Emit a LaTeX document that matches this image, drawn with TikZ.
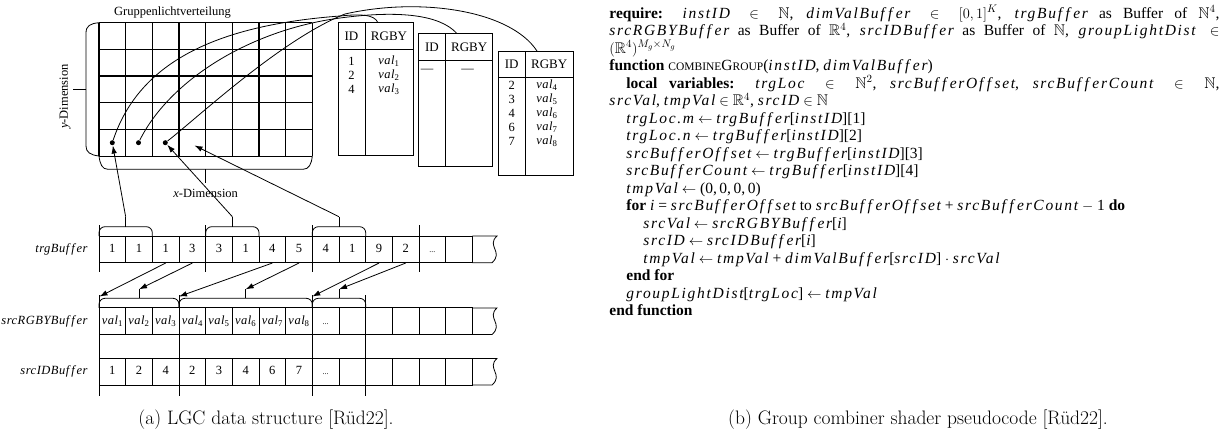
\documentclass[tikz,border=0pt]{standalone}
\usepackage{fontspec}
\usepackage{amssymb}
\usetikzlibrary{arrows.meta,positioning}
\newfontfamily\tms{Liberation Serif}
\newfontfamily\tmsv[LetterSpace=11]{Liberation Serif}
\newfontfamily\tmsd[LetterSpace=4]{Liberation Serif}
\newcommand\vn[1]{{\tmsv\itshape #1}}
\newcommand\dvn[1]{{\tmsd\itshape #1}}
\newcommand\val[1]{\dvn{val}\textsubscript{#1}}
\newcommand\dts{{\fontsize{8}{8}\selectfont...}}
\newcommand\ind{\hspace*{17pt}}
\newcommand\indd{\hspace*{34pt}}
\newcommand\inn{\hspace{4.5pt plus 4pt}$\in$\hspace{4.5pt plus 4pt}}

\tikzset{
  cell/.style={draw, minimum width=26.67pt, minimum height=26.67pt, inner sep=0pt,
    text height=9pt, text depth=3pt, font=\tms\fontsize{12.5}{14}\selectfont},
  txt/.style={inner sep=0pt, font=\tms\fontsize{12.5}{14}\selectfont},
  hdr/.style={inner sep=0pt, font=\tms\fontsize{13}{15}\selectfont},
  gdot/.style={circle, fill, inner sep=0pt, minimum size=5pt},
  arr/.style={-{Latex[length=8pt,width=5.5pt]}},
  brc/.style={rounded corners=6pt},
  capt/.style={inner sep=0pt, font=\fontsize{19.5}{23}\selectfont}
}

\begin{document}
\begin{tikzpicture}[x=1pt, y=-1pt, line width=0.8pt]
\useasboundingbox (0,0) rectangle (1224,437);

% Gruppenlichtverteilung
\foreach \i in {0,...,8}
  \draw[line width=1.1pt] ({99+26.67*\i},22.7) -- ({99+26.67*\i},156);
\foreach \j in {0,...,5}
  \draw[line width=1.1pt] (99,{22.7+26.67*\j}) -- (312.3,{22.7+26.67*\j});
\node[txt] (gtitle) at (172.5,12.7) {Gruppenlichtverteilung};
\draw (99,22.7) .. controls (90,23.5) and (86,26) .. (86,33) -- (86,146) .. controls (86,152) and (90,155) .. (99,156);
\draw (86,89.3) -- (72.7,89.3);
\node[txt, rotate=90] (ydim) at (65,96.5) {\dvn{y}-Dimension};
\draw (99,156) .. controls (100,164) and (102,169.3) .. (108,169.3) -- (303,169.3) .. controls (309,169.3) and (311.5,164) .. (312.3,156);
\draw (205.7,169.3) -- (205.7,182.7);
\node[txt] (xdim) at (205.7,193.5) {\dvn{x}-Dimension};

\node[gdot] (d1) at (112.3,142.7) {};
\node[gdot] (d2) at (138.5,142.7) {};
\node[gdot] (d3) at (165.3,142.7) {};
\coordinate (g4) at (194.5,145.5);

% Tabellen
\draw (338,22.7) rectangle (413,155) (338,49.3) -- (413,49.3) (365,22.7) -- (365,155);
\node[hdr] (hA1) at (351.5,36.5) {ID};
\node[hdr] (hA2) at (389,36.5) {RGBY};
\foreach \a/\b [count=\k] in {1/1,2/2,4/3} {
  \node[txt] (iA\k) at (351.5,{47+14*\k}) {\a};
  \node[txt] (vA\k) at (389,{47+14*\k}) {\val{\b}};
}

\draw (418.3,33.3) rectangle (492.7,166) (418.3,60) -- (492.7,60) (445.7,33.3) -- (445.7,166);
\node[hdr] (hB1) at (432,47.2) {ID};
\node[hdr] (hB2) at (469.2,47.2) {RGBY};
\node[txt] (iB1) at (427,71) {—};
\node[txt] (vB1) at (467.5,71) {—};

\draw (498.3,51) rectangle (573.3,175) (498.3,77) -- (573.3,77) (525,51) -- (525,175);
\node[hdr] (hC1) at (511.7,64.5) {ID};
\node[hdr] (hC2) at (549.2,64.5) {RGBY};
\foreach \a/\b [count=\k] in {2/4,3/5,4/6,6/7,7/8} {
  \node[txt] (iC\k) at (511.7,{71+14*\k}) {\a};
  \node[txt] (vC\k) at (547,{71+14*\k}) {\val{\b}};
}

\coordinate (inA) at (378,22.7);
\coordinate (inB) at (456.7,33.3);
\coordinate (inC) at (537,51);
\draw (d1) .. controls (140,60) and (220,25) .. (340,16) .. controls (360,14) and (374,14) .. (inA);
\draw (d2) .. controls (170,80) and (250,30) .. (340,18) .. controls (400,10) and (440,15) .. (inB);
\draw (d3) .. controls (195,120) and (280,40) .. (345,14) .. controls (420,-3) and (510,10) .. (inC);

% trgBuffer
\foreach \v [count=\k] in {1,1,1,3,3,1,4,5,4,1,9,2,\dts,{}}
  \node[cell] (t\k) at ({99+26.67*(\k-0.5)},249.3) {\v};
\draw (472.4,236) -- (497,236) .. controls (486,246) and (504,252) .. (492,262.7) -- (472.4,262.7);
\foreach \x in {99,205.7,312.3,419}
  \draw (\x,225) -- (\x,271.7);
\foreach \a/\b/\n in {99/152.3/A,205.7/259/B,312.3/365.7/C} {
  \draw[brc] (\a,236) -- (\a,226.7) -- (\b,226.7) -- (\b,236);
  \draw ({(\a+\b)/2},226.7) -- ({(\a+\b)/2},216.7) coordinate (trg\n);
}
\node[txt, anchor=east] (trgL) at (88,249.3) {\dvn{trgBuf\/f\/er}};

\draw[arr] (trgA) -- (d1);
\draw[arr] (trgB) -- (d3);
\draw[arr] (trgC) -- (g4);

% srcRGBYBuffer, srcIDBuffer
\foreach \v [count=\k] in {\val{1},\val{2},\val{3},\val{4},\val{5},\val{6},\val{7},\val{8},\dts,{},{},{},{},{}}
  \node[cell] (s\k) at ({99+26.67*(\k-0.5)},321.2) {\v};
\foreach \v [count=\k] in {1,2,4,2,3,4,6,7,\dts,{},{},{},{},{}}
  \node[cell] (i\k) at ({99+26.67*(\k-0.5)},371.7) {\v};
\foreach \y in {307.9,358.4}
  \draw (472.4,\y) -- (497,\y) .. controls (486,\y+10) and (504,\y+16) .. (492,\y+26.67) -- (472.4,\y+26.67);
\foreach \x in {99,179,312.3,365.7}
  \draw (\x,295) -- (\x,396);
\foreach \a/\b/\n in {99/179/A,179/312.3/B,312.3/365.7/C} {
  \draw[brc] (\a,307.9) -- (\a,298.3) -- (\b,298.3) -- (\b,307.9);
  \draw ({(\a+\b)/2},298.3) -- ({(\a+\b)/2},289.3) coordinate (src\n);
}
\coordinate (s0A) at (99.5,296.5);
\coordinate (s0B) at (179,296.5);
\coordinate (s0C) at (312.3,296.5);
\node[txt, anchor=east] (srcL) at (88,321.2) {\dvn{srcRGBYBuf\/f\/er}};
\node[txt, anchor=east] (idL) at (88,371.7) {\dvn{srcIDBuf\/f\/er}};

\draw[arr] (t3.south) -- (s0A);
\draw[arr] (t4.south) -- (srcA);
\draw[arr] (t7.south) -- (s0B);
\draw[arr] (t8.south) -- (srcB);
\draw[arr] (t11.south) -- (s0C);
\draw[arr] (t12.south) -- (srcC);

% Pseudocode
\node[anchor=north west, inner sep=0pt, text width=610pt, align=justify,
  font=\tms\fontsize{15.5}{17.5}\selectfont] (code) at (609,5) {%
\lineskiplimit-20pt\relax
\textbf{require:} \vn{instID}\inn$\mathbb{N}$, \vn{dimValBuf\/f\/er}\inn$[0,1]^{K}$, \vn{trgBuf\/f\/er} as Buffer of $\mathbb{N}^4$,\linebreak
\vn{srcRGBYBuf\/f\/er} as Buffer of $\mathbb{R}^4$, \vn{srcIDBuf\/f\/er} as Buffer of $\mathbb{N}$, \vn{groupLightDist}\inn\linebreak
$(\mathbb{R}^4)^{M_g\times N_g}$\par
\textbf{function} {\fontsize{11.5}{12}\selectfont COMBINE}G{\fontsize{11.5}{12}\selectfont ROUP}(\vn{instID}, \vn{dimValBuf\/f\/er})\par
\ind\textbf{local variables:} \vn{trgLoc}\inn$\mathbb{N}^2$, \vn{srcBuf\/f\/erOf\/f\/set}, \vn{srcBuf\/f\/erCount}\inn$\mathbb{N}$,\linebreak
\vn{srcVal}, \vn{tmpVal} $\in \mathbb{R}^4$, \vn{srcID} $\in \mathbb{N}$\par
\ind\vn{trgLoc.m} $\leftarrow$ \vn{trgBuf\/f\/er}[\vn{instID}][1]\par
\ind\vn{trgLoc.n} $\leftarrow$ \vn{trgBuf\/f\/er}[\vn{instID}][2]\par
\ind\vn{srcBuf\/f\/erOf\/f\/set} $\leftarrow$ \vn{trgBuf\/f\/er}[\vn{instID}][3]\par
\ind\vn{srcBuf\/f\/erCount} $\leftarrow$ \vn{trgBuf\/f\/er}[\vn{instID}][4]\par
\ind\vn{tmpVal} $\leftarrow$ (0,\,0,\,0,\,0)\par
\ind\textbf{for} \vn{i} = \vn{srcBuf\/f\/erOf\/f\/set} to \vn{srcBuf\/f\/erOf\/f\/set} + \vn{srcBuf\/f\/erCount} $-$ 1 \textbf{do}\par
\indd\vn{srcVal} $\leftarrow$ \vn{srcRGBYBuf\/f\/er}[\vn{i}]\par
\indd\vn{srcID} $\leftarrow$ \vn{srcIDBuf\/f\/er}[\vn{i}]\par
\indd\vn{tmpVal} $\leftarrow$ \vn{tmpVal} + \vn{dimValBuf\/f\/er}[\vn{srcID}] $\cdot$ \vn{srcVal}\par
\ind\textbf{end for}\par
\ind\vn{groupLightDist}[\vn{trgLoc}] $\leftarrow$ \vn{tmpVal}\par
\textbf{end function}};

\node[capt] (capA) at (266,420) {(a) LGC data structure [Rüd22].};
\node[capt] (capB) at (918,420) {(b) Group combiner shader pseudocode [Rüd22].};
\end{tikzpicture}
\end{document}
